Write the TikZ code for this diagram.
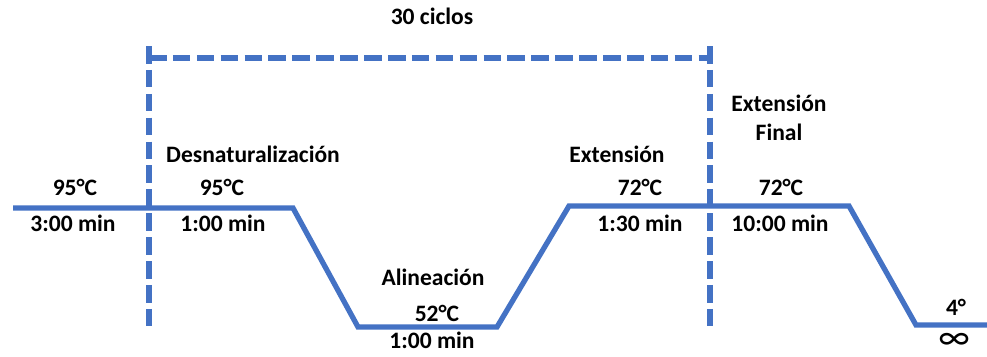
\documentclass[tikz,border=0pt]{standalone}
\usepackage{fontspec}
\setmainfont{Carlito}
\usepackage{xcolor}
\definecolor{pcrblue}{HTML}{4472C4}

\begin{document}
\begin{tikzpicture}[x=0.02cm,y=-0.02cm,
        perfil/.style={pcrblue,line width=3pt},
        ciclo/.style={pcrblue,line width=3.2pt,dash pattern=on 10pt off 3.6pt},
        etiq/.style={font=\fontsize{13.4}{16}\selectfont\bfseries,anchor=base,inner sep=0pt}]
        \useasboundingbox (0,0) rectangle (987,356);
        % perfil de temperatura
        \coordinate (p0) at (13,208);
        \coordinate (p1) at (293,208);
        \coordinate (p2) at (358,327);
        \coordinate (p3) at (497,327);
        \coordinate (p4) at (569,206);
        \coordinate (p5) at (849,206);
        \coordinate (p6) at (916,325);
        \coordinate (p7) at (987,325);
        \draw[perfil] (p0)--(p1)--(p2)--(p3)--(p4)--(p5)--(p6)--(p7);
        % recuadro de los ciclos
        \coordinate (c0) at (149,331);
        \coordinate (c1) at (149,46);
        \coordinate (c2) at (710,46);
        \coordinate (c3) at (710,331);
        \draw[ciclo] (c1)--(c0);
        \draw[ciclo] (c2)--(c3);
        \draw[ciclo] ([yshift=-7]c1)--([yshift=-7]c2);
        \node[etiq] (ciclos) at (432,24) {30 ciclos};
        % etapas
        \node[etiq] (t95a) at (75,195) {95°C};
        \node[etiq] (d300) at (73,231) {3:00 min};
        \node[etiq] (desn) at (253,162) {Desnaturalización};
        \node[etiq] (t95b) at (222,195) {95°C};
        \node[etiq] (d100a) at (223,231) {1:00 min};
        \node[etiq] (alin) at (433,285) {Alineación};
        \node[etiq] (t52) at (437,321) {52°C};
        \node[etiq] (d100b) at (432,348) {1:00 min};
        \node[etiq] (ext) at (617,162) {Extensión};
        \node[etiq] (t72a) at (640,195) {72°C};
        \node[etiq] (d130) at (640,231) {1:30 min};
        \node[etiq] (extf) at (779,111) {Extensión};
        \node[etiq] (fin) at (779,140) {Final};
        \node[etiq] (t72b) at (781,195) {72°C};
        \node[etiq] (d1000) at (780,231) {10:00 min};
        \node[etiq] (t4) at (956,315) {4°};
        \node[etiq,font=\fontsize{21}{24}\selectfont] (inf) at (954,349) {∞};
\end{tikzpicture}
\end{document}
